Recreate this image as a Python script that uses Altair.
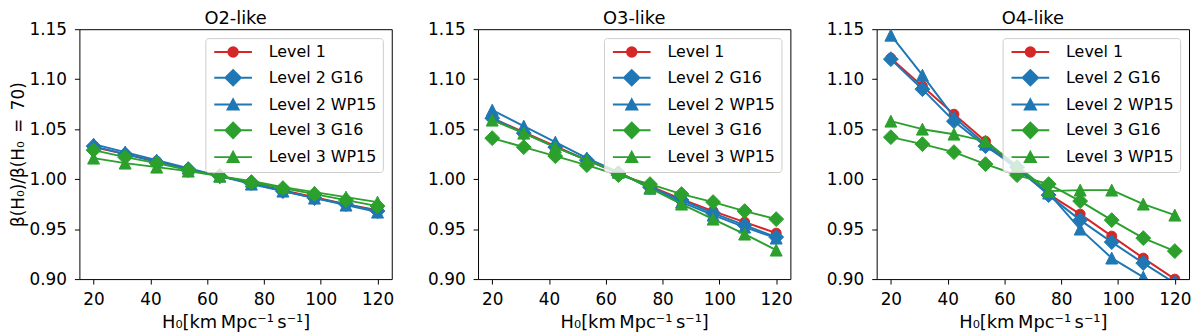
import altair as alt
import pandas as pd

# ---------------- data ----------------
X = [20, 31.11, 42.22, 53.33, 64.44, 75.56, 86.67, 97.78, 108.89, 120]
SERIES = ["Level 1", "Level 2 G16", "Level 2 WP15", "Level 3 G16", "Level 3 WP15"]
PANELS = ["O2-like", "O3-like", "O4-like"]

O2_L1 = [1.032, 1.025, 1.018, 1.010, 1.003, 0.996, 0.989, 0.982, 0.975, 0.969]
O2_L2G16 = [1.033, 1.025, 1.017, 1.010, 1.003, 0.996, 0.988, 0.981, 0.975, 0.968]
O2_L2WP15 = [1.035, 1.027, 1.019, 1.011, 1.003, 0.995, 0.988, 0.981, 0.974, 0.967]
O2_L3G16 = [1.029, 1.022, 1.016, 1.009, 1.003, 0.997, 0.991, 0.985, 0.979, 0.973]
O2_L3WP15 = [1.021, 1.016, 1.012, 1.008, 1.003, 0.998, 0.992, 0.987, 0.982, 0.977]

O3_L1 = [1.061, 1.047, 1.033, 1.019, 1.006, 0.993, 0.980, 0.968, 0.957, 0.946]
O3_L2G16 = [1.061, 1.046, 1.032, 1.019, 1.006, 0.992, 0.979, 0.966, 0.954, 0.942]
O3_L2WP15 = [1.069, 1.053, 1.037, 1.021, 1.007, 0.991, 0.977, 0.964, 0.952, 0.941]
O3_L3G16 = [1.041, 1.032, 1.023, 1.014, 1.004, 0.995, 0.985, 0.977, 0.968, 0.960]
O3_L3WP15 = [1.059, 1.046, 1.032, 1.019, 1.007, 0.991, 0.975, 0.960, 0.945, 0.929]

O4_L1 = [1.121, 1.093, 1.065, 1.038, 1.011, 0.985, 0.965, 0.943, 0.921, 0.900]
O4_L2G16 = [1.120, 1.090, 1.058, 1.033, 1.012, 0.984, 0.959, 0.937, 0.916, 0.896]
O4_L2WP15 = [1.144, 1.104, 1.062, 1.035, 1.010, 0.986, 0.950, 0.921, 0.902, 0.882]
O4_L3G16 = [1.042, 1.035, 1.027, 1.015, 1.004, 0.995, 0.978, 0.959, 0.941, 0.928]
O4_L3WP15 = [1.058, 1.050, 1.045, 1.038, 1.013, 0.988, 0.989, 0.989, 0.975, 0.964]

PANEL_DATA = {
    "O2-like": [O2_L1, O2_L2G16, O2_L2WP15, O2_L3G16, O2_L3WP15],
    "O3-like": [O3_L1, O3_L2G16, O3_L2WP15, O3_L3G16, O3_L3WP15],
    "O4-like": [O4_L1, O4_L2G16, O4_L2WP15, O4_L3G16, O4_L3WP15],
}

X_TICKS = [20, 40, 60, 80, 100, 120]
Y_TICKS = [0.90, 0.95, 1.00, 1.05, 1.10, 1.15]

# ---------------- styles ----------------
RED, BLUE, GREEN = "#d62728", "#1f77b4", "#2ca02c"
COLORS = [RED, BLUE, BLUE, GREEN, GREEN]
TRI = "M0,-1L1,1L-1,1Z"
MARK_SHAPES = ["circle", "diamond", TRI, "diamond", TRI]
MARK_SIZES = [100, 225, 144, 225, 144]


def circ(cx, r):
    k = 0.5523 * r
    return (f"M{cx + r},0C{cx + r},{k} {cx + k},{r} {cx},{r}"
            f"C{cx - k},{r} {cx - r},{k} {cx - r},0"
            f"C{cx - r},{-k} {cx - k},{-r} {cx},{-r}"
            f"C{cx + k},{-r} {cx + r},{-k} {cx + r},0Z")


CX = 2.8
LINE = "M-1,0H6.6"
DIA = f"M{CX - 1.55},0L{CX},-1.55L{CX + 1.55},0L{CX},1.55Z"
TRL = f"M{CX},-1.05L{CX + 1.1},1.0L{CX - 1.1},1.0Z"
LEG_SHAPES = [LINE + circ(CX, 0.95), LINE + DIA, LINE + TRL, LINE + DIA, LINE + TRL]

FONT = "DejaVu Sans"
XTITLE = "H\u2080[km\u2009Mpc\u207b\u00b9\u2009s\u207b\u00b9]"
YTITLE = "\u03b2(H\u2080)/\u03b2(H\u2080\u2002=\u200270)"

W, H = 315, 252


def make_panel(name, first):
    rows = []
    for s, vals in zip(SERIES, PANEL_DATA[name]):
        for xv, yv in zip(X, vals):
            rows.append({"series": s, "x": xv, "y": yv})
    df = pd.DataFrame(rows)

    xenc = alt.X("x:Q", scale=alt.Scale(domain=[15, 125], nice=False, zero=False),
                 axis=alt.Axis(values=X_TICKS, title=XTITLE, format="d"))
    yenc = alt.Y("y:Q", scale=alt.Scale(domain=[0.90, 1.15], nice=False, zero=False),
                 axis=alt.Axis(values=Y_TICKS, format=".2f",
                               title=YTITLE if first else None))

    base = alt.Chart(df)
    layers = []
    for s, c, shp, sz in zip(SERIES, COLORS, MARK_SHAPES, MARK_SIZES):
        sub = base.transform_filter(alt.datum.series == s)
        layers.append(sub.mark_line(color=c, strokeWidth=2, clip=True,
                                    strokeJoin="round").encode(x=xenc, y=yenc))
        layers.append(sub.mark_point(filled=True, color=c, stroke=c, strokeWidth=1,
                                     shape=shp, size=sz, opacity=1,
                                     clip=True).encode(x=xenc, y=yenc))

    leg = alt.Legend(title=None, orient="top-right", offset=9, padding=6,
                     fillColor="rgba(255,255,255,0.8)", strokeColor="#cccccc",
                     cornerRadius=3, labelFont=FONT, labelFontSize=16,
                     labelColor="black", symbolSize=100, symbolStrokeWidth=2,
                     labelOffset=42, rowPadding=5, labelLimit=300)
    legend_layer = base.transform_filter("false").mark_point(
        filled=True, strokeWidth=2, opacity=1).encode(
        x=xenc, y=yenc,
        fill=alt.Fill("series:N", scale=alt.Scale(domain=SERIES, range=COLORS), legend=leg),
        stroke=alt.Stroke("series:N", scale=alt.Scale(domain=SERIES, range=COLORS), legend=leg),
        shape=alt.Shape("series:N", scale=alt.Scale(domain=SERIES, range=LEG_SHAPES), legend=leg),
    )
    layers.append(legend_layer)

    return alt.layer(*layers).properties(
        width=W, height=H,
        title=alt.TitleParams(name, font=FONT, fontSize=18, fontWeight="normal",
                              color="black", offset=-8),
    )


panels = [make_panel(p, i == 0) for i, p in enumerate(PANELS)]

chart = alt.hconcat(*panels, spacing=32).resolve_scale(
    fill="independent", stroke="independent", shape="independent"
).properties(
    padding=0
).configure_view(
    stroke="black", strokeWidth=1
).configure_axis(
    domain=False, grid=False, tickColor="black", tickSize=5, tickWidth=1,
    labelColor="black", labelFont=FONT, labelFontSize=17,
    titleFont=FONT, titleFontSize=18, titleColor="black", titleFontWeight="normal",
).configure_axisX(
    labelPadding=8, titlePadding=6,
).configure_axisY(
    labelPadding=8, titlePadding=2, titleFontSize=17,
)

chart.save("out.html", embed_options={"renderer": "svg", "actions": False})
